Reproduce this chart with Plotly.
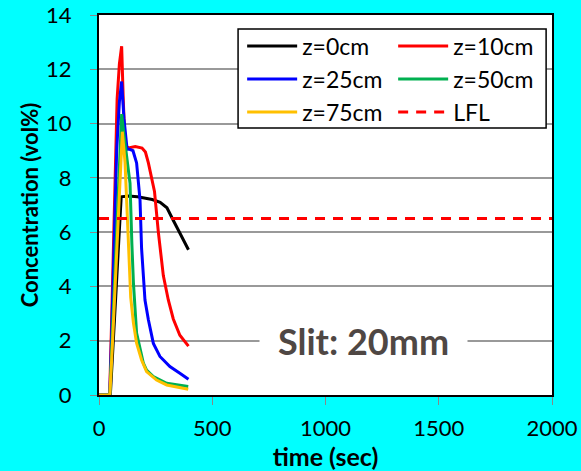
import plotly.graph_objects as go

# ---- data ----
z0_t = [0, 50, 98, 130, 170, 210, 235, 270, 300, 330, 360, 395]
z0_c = [0, 0, 7.3, 7.33, 7.3, 7.25, 7.2, 7.1, 6.9, 6.4, 5.9, 5.35]

z10_t = [0, 47, 55, 65, 72, 80, 90, 100, 107, 115, 130, 160, 190, 205, 218, 232, 245, 262, 284, 306, 328, 357, 395]
z10_c = [0, 0, 2.5, 6.0, 9.0, 10.9, 12.2, 12.85, 10.9, 9.2, 9.1, 9.15, 9.1, 8.95, 8.55, 8.05, 7.5, 6.0, 4.4, 3.5, 2.8, 2.2, 1.8]

z25_t = [0, 48, 60, 70, 78, 90, 100, 110, 124, 135, 150, 166, 174, 181, 188, 196, 203, 218, 240, 269, 313, 357, 395]
z25_c = [0, 0, 3.5, 6.6, 9.0, 10.8, 11.55, 10.2, 9.05, 9.05, 9.0, 8.55, 7.95, 7.2, 5.4, 4.13, 3.5, 2.77, 1.9, 1.42, 1.05, 0.8, 0.58]

z50_t = [0, 48, 60, 75, 90, 100, 110, 122, 134, 137, 145, 152, 166, 181, 196, 210, 240, 299, 394]
z50_c = [0, 0, 2.5, 5.5, 9.0, 10.35, 9.6, 8.8, 8.06, 7.8, 5.6, 4.13, 2.28, 1.66, 1.17, 0.92, 0.68, 0.43, 0.31]

z75_t = [0, 48, 60, 75, 90, 103, 115, 129, 140, 152, 166, 188, 210, 254, 299, 394]
z75_c = [0, 0, 2.0, 4.8, 7.8, 9.7, 8.56, 5.36, 3.6, 2.65, 1.91, 1.29, 0.86, 0.55, 0.37, 0.21]

lfl_t = [0, 2000]
lfl_c = [6.5, 6.5]

series_names = ["z=0cm", "z=10cm", "z=25cm", "z=50cm", "z=75cm"]
series_t = [z0_t, z10_t, z25_t, z50_t, z75_t]
series_c = [z0_c, z10_c, z25_c, z50_c, z75_c]
series_colors = ["#000000", "#ff0000", "#0000ff", "#00b050", "#ffc000"]
series_legend = ["legend", "legend", "legend2", "legend2", "legend3"]

x_ticks = [0, 500, 1000, 1500, 2000]
y_ticks = [0, 2, 4, 6, 8, 10, 12, 14]

FONT = "Lato"

fig = go.Figure()
for name, t, c, col, lg in zip(series_names, series_t, series_c, series_colors, series_legend):
    fig.add_trace(go.Scatter(x=t, y=c, mode="lines", name=name, legend=lg,
                             line=dict(color=col, width=3)))
fig.add_trace(go.Scatter(x=lfl_t, y=lfl_c, mode="lines", name="LFL", legend="legend3",
                         line=dict(color="#ff0000", width=3, dash="10px,8px")))

fig.add_annotation(x=1166, y=2.0, xref="x", yref="y", text="<b>Slit: 20mm</b>",
                   showarrow=False, bgcolor="white", borderpad=18,
                   font=dict(family=FONT, size=36, color="#4f4744"))

# legend frame
fig.add_shape(type="rect", xref="paper", yref="paper", x0=0.307, x1=0.987,
              y0=0.7026, y1=0.963, line=dict(color="black", width=1.5),
              fillcolor="white", layer="above")

leg_common = dict(orientation="h", xanchor="left", yanchor="middle",
                  bgcolor="rgba(0,0,0,0)", borderwidth=0,
                  font=dict(family=FONT, size=23, color="black"),
                  entrywidth=86, itemwidth=50, traceorder="normal")

fig.update_layout(
    width=581, height=471,
    margin=dict(l=99, r=29, t=15, b=76, autoexpand=False),
    paper_bgcolor="#00ffff", plot_bgcolor="white",
    font=dict(family=FONT, size=22, color="black"),
    showlegend=True,
    legend=dict(x=0.316, y=0.918, **leg_common),
    legend2=dict(x=0.316, y=0.8316, **leg_common),
    legend3=dict(x=0.316, y=0.7447, **leg_common),
)
fig.update_xaxes(range=[0, 2000], tickvals=x_ticks, showgrid=False, zeroline=False,
                 showline=True, mirror=True, linecolor="black", linewidth=2,
                 ticks="outside", ticklen=8, tickcolor="#888888", tickwidth=1,
                 ticklabelstandoff=5, automargin=False,
                 title=dict(text="<b>time (sec)</b>", standoff=6,
                            font=dict(family=FONT, size=25)))
fig.update_yaxes(range=[0, 14], tickvals=y_ticks, showgrid=True, gridcolor="#999999",
                 gridwidth=1.5, zeroline=False,
                 showline=True, mirror=True, linecolor="black", linewidth=2,
                 ticks="outside", ticklen=7, tickcolor="#888888", tickwidth=1,
                 ticklabelstandoff=14, automargin=False,
                 title=dict(text="<b>Concentration (vol%)</b>", standoff=1,
                            font=dict(family=FONT, size=22)))

fig.write_html("out.html", config={"displayModeBar": False},
               post_script="document.body.style.margin='0';"
                           "document.body.style.background='#00ffff';")
